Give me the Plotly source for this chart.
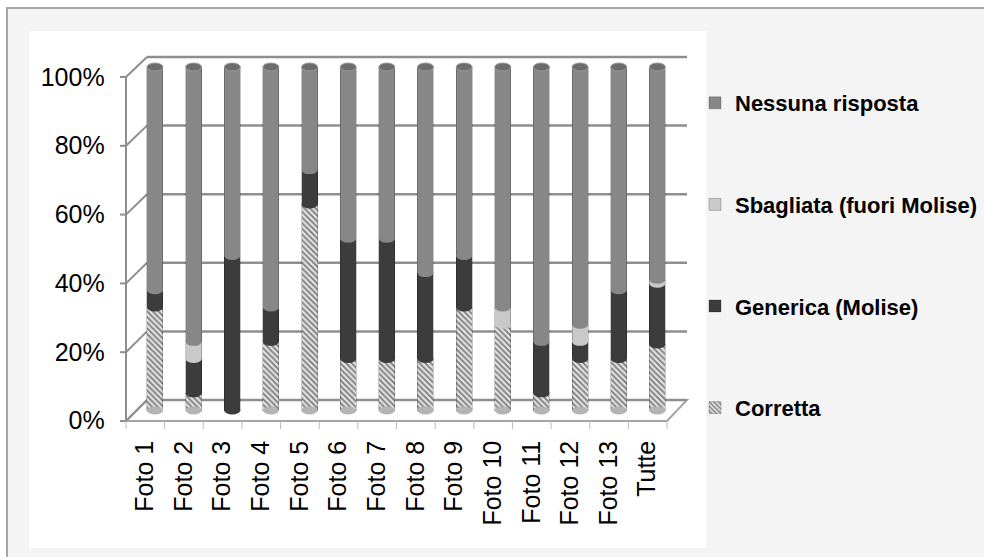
import plotly.graph_objects as go

W, H = 984, 557

# ---- data (percent of answers per photo) ----
categories = ["Foto 1", "Foto 2", "Foto 3", "Foto 4", "Foto 5", "Foto 6", "Foto 7",
              "Foto 8", "Foto 9", "Foto 10", "Foto 11", "Foto 12", "Foto 13", "Tutte"]
corretta = [30, 5, 0, 20, 60, 15, 15, 15, 30, 25, 5, 15, 15, 19.2]
generica = [5, 10, 45, 10, 10, 35, 35, 25, 15, 0, 15, 5, 20, 17.7]
sbagliata = [0, 5, 0, 0, 0, 0, 0, 0, 0, 5, 0, 5, 0, 1.2]
nessuna = [65, 80, 55, 70, 30, 50, 50, 60, 55, 70, 80, 75, 65, 61.9]
y_ticks = [0, 20, 40, 60, 80, 100]
y_ticktext = ["0%", "20%", "40%", "60%", "80%", "100%"]

# name, values, fill colour, rim colour, legend rank
series = [
    ("Corretta", corretta, "#e2e2e2", "#b4b4b4", 4),
    ("Generica (Molise)", generica, "#3c3c3c", "#3c3c3c", 3),
    ("Sbagliata (fuori Molise)", sbagliata, "#c9c9c9", "#c9c9c9", 2),
    ("Nessuna risposta", nessuna, "#878787", "#878787", 1),
]

FONT = "Liberation Sans, Arial, sans-serif"
GRID = "#8e8e8e"


def px(x):
    return x / W


def py(y):
    return 1 - y / H


# ---- 3D frame geometry (pixels) ----
FRONT_L, FRONT_R = 126, 667      # front edge of the floor
BACK_L, BACK_R = 147, 687        # back wall
FRONT_0, FRONT_100 = 421, 77     # front plane: 0% and 100%
BACK_0, BACK_100 = 400, 57       # back wall: 0% and 100%
BAR_0, BAR_100 = 410.5, 67       # middle plane where the cylinders stand
N = len(categories)
STEP = (FRONT_R - FRONT_L) / N
BAR_C0 = 155
BAR_W = 16
DEPTH_DX = BAR_C0 - (FRONT_L + STEP / 2)   # horizontal shift front -> middle plane
DEPTH_DY = FRONT_0 - BAR_0                 # vertical shift front -> middle plane

fig = go.Figure()

for name, vals, col, rim, rank in series:
    kw = dict(color=col, line=dict(width=0.6, color="rgba(0,0,0,0.35)"))
    if name == "Corretta":
        kw["pattern"] = dict(shape="\\", fgcolor="#7c7c7c", bgcolor="#e2e2e2",
                             size=4, solidity=0.45, fillmode="replace")
    fig.add_trace(go.Bar(
        x=categories, y=vals, name=name, marker=kw, legendrank=rank,
        legendgroup=name,
        hovertemplate="%{x}: %{y}%<extra>" + name + "</extra>",
    ))

shapes = []
# page background and white plot panel
shapes.append(dict(type="rect", xref="paper", yref="paper", layer="below",
                   x0=px(7), x1=px(W + 5), y0=py(H + 5), y1=py(8),
                   fillcolor="#f4f4f4", line=dict(color="#a8a8a8", width=2)))
shapes.append(dict(type="rect", xref="paper", yref="paper", layer="below",
                   x0=px(29), x1=px(706), y0=py(548), y1=py(31),
                   fillcolor="white", line=dict(width=0)))
# floor
shapes.append(dict(type="path", xref="paper", yref="paper", layer="below",
                   path=f"M{px(FRONT_L)},{py(FRONT_0)} L{px(BACK_L)},{py(BACK_0)} "
                        f"L{px(BACK_R)},{py(BACK_0)} L{px(FRONT_R)},{py(FRONT_0)} Z",
                   fillcolor="white", line=dict(color="#a4a4a4", width=2)))
# back-wall gridlines, side-wall diagonals and front tick marks
for t in y_ticks:
    yf = FRONT_0 - (FRONT_0 - FRONT_100) * t / 100
    yb = BACK_0 - (BACK_0 - BACK_100) * t / 100
    shapes.append(dict(type="line", xref="paper", yref="paper", layer="below",
                       x0=px(BACK_L), y0=py(yb), x1=px(BACK_R), y1=py(yb),
                       line=dict(color=GRID, width=2.5)))
    shapes.append(dict(type="line", xref="paper", yref="paper", layer="below",
                       x0=px(FRONT_L), y0=py(yf), x1=px(BACK_L), y1=py(yb),
                       line=dict(color=GRID, width=2)))
    shapes.append(dict(type="line", xref="paper", yref="paper", layer="below",
                       x0=px(FRONT_L - 6), y0=py(yf), x1=px(FRONT_L), y1=py(yf),
                       line=dict(color=GRID, width=2)))
# front vertical axis line
shapes.append(dict(type="line", xref="paper", yref="paper", layer="below",
                   x0=px(FRONT_L), y0=py(FRONT_0), x1=px(FRONT_L), y1=py(FRONT_100),
                   line=dict(color=GRID, width=2)))
# category boundary ticks under the front edge
for k in range(N + 1):
    xk = FRONT_L + k * STEP
    shapes.append(dict(type="line", xref="paper", yref="paper", layer="below",
                       x0=px(xk), y0=py(FRONT_0), x1=px(xk), y1=py(FRONT_0 + 8),
                       line=dict(color="#bcbcbc", width=1)))

# cylinder rims: elliptical segment bottoms and top caps
bar_half = (BAR_W / STEP) / 2
unit = (BAR_0 - BAR_100) / 100.0
ell_h = 4 / unit
for i in range(N):
    base = 0.0
    for name, vals, col, rim, rank in series:
        v = vals[i]
        if v > 0:
            shapes.append(dict(type="circle", xref="x", yref="y", layer="above",
                               x0=i - bar_half, x1=i + bar_half,
                               y0=base - ell_h, y1=base + ell_h,
                               fillcolor=rim, line=dict(width=0)))
        base += v
    shapes.append(dict(type="circle", xref="x", yref="y", layer="above",
                       x0=i - bar_half, x1=i + bar_half,
                       y0=base - ell_h, y1=base + ell_h,
                       fillcolor="#6c6c6c", line=dict(color="#9a9a9a", width=1)))

bar_dom_l = BAR_C0 - STEP / 2
bar_dom_r = BAR_C0 + (N - 0.5) * STEP
bottom_px = BAR_0 + 3 * unit
top_px = BAR_100 - 3 * unit

fig.update_layout(
    width=W, height=H, autosize=False,
    margin=dict(l=0, r=0, t=0, b=0, autoexpand=False),
    paper_bgcolor="white", plot_bgcolor="rgba(0,0,0,0)",
    barmode="stack", bargap=1 - BAR_W / STEP,
    shapes=shapes,
    showlegend=True,
    legend=dict(x=px(695), y=py(82), xanchor="left", yanchor="top",
                traceorder="grouped", tracegroupgap=70,
                bgcolor="rgba(0,0,0,0)",
                font=dict(family=FONT, size=22, color="black", weight="bold")),
    xaxis=dict(domain=[px(bar_dom_l), px(bar_dom_r)], range=[-0.5, N - 0.5],
               type="category", categoryarray=categories, categoryorder="array",
               tickangle=-90, ticks="", showgrid=False, zeroline=False, showline=False,
               ticklabelshift=int(round(-DEPTH_DX)),
               ticklabelstandoff=int(round(FRONT_0 + 14 - bottom_px)),
               tickfont=dict(family=FONT, size=25, color="black")),
    yaxis=dict(domain=[py(bottom_px), py(top_px)], range=[-3, 103],
               tickvals=y_ticks, ticktext=y_ticktext, ticks="",
               showgrid=False, zeroline=False, showline=False,
               ticklabelshift=int(round(DEPTH_DY)),
               ticklabelstandoff=int(round(bar_dom_l - 106)),
               tickfont=dict(family=FONT, size=25, color="black")),
)

fig.write_html("out.html")
